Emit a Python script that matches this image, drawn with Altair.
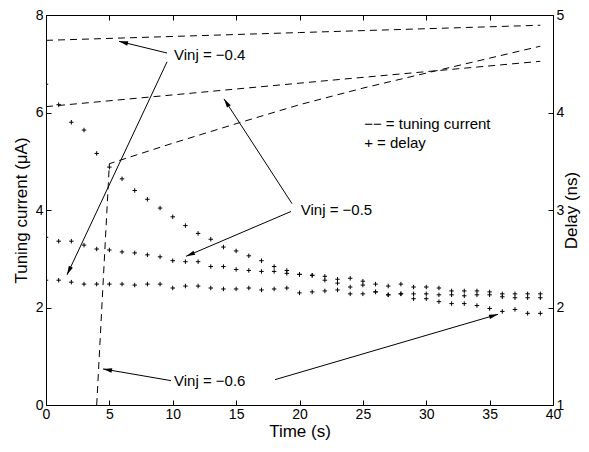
import math
import altair as alt
import pandas as pd

# ---------------- data ----------------
time_s = list(range(40))

delay_m06 = [4.29, 4.08, 3.90, 3.82, 3.58, 3.44, 3.32, 3.20, 3.11, 3.02,
             2.93, 2.84, 2.76, 2.70, 2.62, 2.58, 2.53, 2.48, 2.42, 2.38,
             2.34, 2.33, 2.28, 2.25, 2.21, 2.23, 2.16, 2.13, 2.14, 2.09,
             2.09, 2.06, 2.04, 2.04, 2.02, 1.99, 1.96, 1.98, 1.94, 1.94]
delay_m05 = [2.72, 2.68, 2.68, 2.64, 2.60, 2.59, 2.57, 2.56, 2.54, 2.52,
             2.48, 2.47, 2.47, 2.42, 2.42, 2.39, 2.38, 2.37, 2.37, 2.35,
             2.34, 2.33, 2.32, 2.29, 2.30, 2.27, 2.24, 2.22, 2.24, 2.21,
             2.21, 2.20, 2.17, 2.17, 2.17, 2.16, 2.14, 2.14, 2.14, 2.14]
delay_m04 = [2.28, 2.28, 2.26, 2.24, 2.24, 2.24, 2.24, 2.23, 2.24, 2.24,
             2.20, 2.22, 2.22, 2.20, 2.19, 2.19, 2.20, 2.18, 2.19, 2.20,
             2.15, 2.16, 2.17, 2.18, 2.14, 2.14, 2.16, 2.13, 2.14, 2.14,
             2.14, 2.13, 2.13, 2.12, 2.13, 2.13, 2.11, 2.10, 2.10, 2.10]

cur_t_m04 = [0, 20, 39]
cur_m04 = [7.48, 7.64, 7.79]
cur_t_m05 = [0, 22, 39]
cur_m05 = [6.12, 6.65, 7.05]
cur_t_m06 = [4.0, 5.0, 10, 15, 20, 25, 31, 39]
cur_m06 = [0.0, 4.95, 5.37, 5.77, 6.16, 6.50, 6.87, 7.36]

label_text = ["Vinj = \u22120.4", "Vinj = \u22120.5", "Vinj = \u22120.6",
              "\u2212\u2212 = tuning current", "+ = delay"]
label_t = [10.1, 20.1, 10.1, 25.1, 25.1]
label_c = [7.18, 3.99, 0.49, 5.77, 5.37]

arrow_t_from = [9.55, 9.55, 19.41, 19.33, 9.86, 18.07]
arrow_c_from = [7.22, 7.04, 4.13, 3.97, 0.50, 0.52]
arrow_t_to = [5.76, 1.66, 14.04, 11.05, 4.50, 35.66]
arrow_c_to = [7.46, 2.67, 6.28, 3.05, 0.74, 1.86]

x_ticks = [0, 5, 10, 15, 20, 25, 30, 35, 40]
yl_ticks = [0, 2, 4, 6, 8]
yr_ticks = [1, 2, 3, 4, 5]

# ---------------- tables ----------------
W, H = 507, 390
FONT = "Liberation Sans"

delay_df = pd.concat([
    pd.DataFrame({"t": time_s, "d": delay_m06, "s": "-0.6"}),
    pd.DataFrame({"t": time_s, "d": delay_m05, "s": "-0.5"}),
    pd.DataFrame({"t": time_s, "d": delay_m04, "s": "-0.4"}),
])
cur_df = pd.concat([
    pd.DataFrame({"t": cur_t_m04, "c": cur_m04, "s": "-0.4"}),
    pd.DataFrame({"t": cur_t_m05, "c": cur_m05, "s": "-0.5"}),
    pd.DataFrame({"t": cur_t_m06, "c": cur_m06, "s": "-0.6"}),
])
text_df = pd.DataFrame({"t": label_t, "c": label_c, "label": label_text})
arrow_df = pd.DataFrame({"t": arrow_t_from, "c": arrow_c_from,
                         "t2": arrow_t_to, "c2": arrow_c_to})
angles = []
for tf, cf, tt, ct in zip(arrow_t_from, arrow_c_from, arrow_t_to, arrow_c_to):
    dx = (tt - tf) * W / 40.0
    dy = -(ct - cf) * H / 8.0
    angles.append(math.degrees(math.atan2(dx, -dy)) % 360)
head_df = pd.DataFrame({"t": arrow_t_to, "c": arrow_c_to, "ang": angles})

# ---------------- scales & axes ----------------
xs = alt.Scale(domain=[0, 40], nice=False, zero=False)
ysl = alt.Scale(domain=[0, 8], nice=False)
ysr = alt.Scale(domain=[1, 5], nice=False, zero=False)

common = dict(domain=False, grid=False, tickSize=5, offset=-5, tickColor="black",
              tickWidth=1, labelColor="black", titleColor="black",
              labelFont=FONT, titleFont=FONT, labelFontSize=14,
              titleFontWeight="normal", labelFlush=False)

ax_bottom = alt.Axis(orient="bottom", values=x_ticks, title="Time (s)",
                     labelPadding=2, titlePadding=2, titleFontSize=17, **common)
ax_top = alt.Axis(orient="top", values=x_ticks, title=None, labels=False, **common)
ax_left = alt.Axis(orient="left", values=yl_ticks, title="Tuning current (\u03bcA)",
                   labelPadding=3, titlePadding=5, titleFontSize=17, **common)
ax_right = alt.Axis(orient="right", values=yr_ticks, title="Delay (ns)",
                    labelPadding=3, titlePadding=0, titleAngle=270,
                    titleBaseline="top", titleFontSize=17, **common)

X = alt.X("t:Q", scale=xs, axis=ax_bottom)
Y = alt.Y("c:Q", scale=ysl, axis=ax_left)

lines = alt.Chart(cur_df).mark_line(
    color="black", strokeWidth=1, strokeDash=[7, 5], clip=True
).encode(x=X, y=Y, detail="s:N", order="t:Q")

arrows = alt.Chart(arrow_df).mark_rule(color="black", strokeWidth=1).encode(
    x=X, y=Y, x2="t2:Q", y2="c2:Q")

heads = alt.Chart(head_df).mark_point(
    shape="M0,0L-0.5,2L0.5,2Z", filled=True, color="black", size=81, opacity=1
).encode(x=X, y=Y, angle=alt.Angle("ang:Q", scale=None))

texts = alt.Chart(text_df).mark_text(
    align="left", baseline="middle", font=FONT, fontSize=15, color="black"
).encode(x=X, y=Y, text="label:N")

left = alt.layer(lines, arrows, heads, texts)

points = alt.Chart(delay_df).mark_point(
    shape="M-1,0L1,0M0,-1L0,1", filled=False, stroke="black", strokeWidth=1,
    size=20, opacity=1, clip=True
).encode(
    x=alt.X("t:Q", scale=xs, axis=ax_top),
    y=alt.Y("d:Q", scale=ysr, axis=ax_right),
    detail="s:N",
)

chart = alt.layer(left, points).resolve_scale(y="independent").resolve_axis(
    x="independent", y="independent"
).properties(
    width=W, height=H,
    autosize=alt.AutoSizeParams(type="none"),
    padding={"left": 38, "top": 7, "right": 28, "bottom": 37},
    background="white",
).configure_view(stroke="black", strokeWidth=1)

chart.save("out.html", embed_options={"renderer": "svg", "actions": False})
